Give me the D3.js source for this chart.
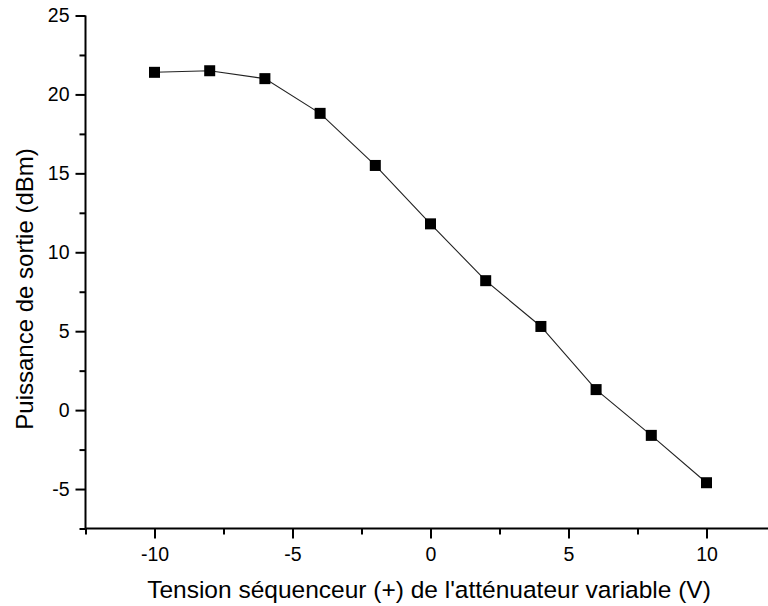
<!DOCTYPE html>
<html>
<head>
<meta charset="utf-8">
<script src="https://cdn.jsdelivr.net/npm/d3@7"></script>
<style>
  html, body { margin: 0; padding: 0; background: #fff; }
  svg { display: block; }
  text { font-family: "Liberation Sans", Arial, sans-serif; fill: #000; }
</style>
</head>
<body>
<svg id="chart" width="768" height="606"></svg>
<script>
const voltages = [-10, -8, -6, -4, -2, 0, 2, 4, 6, 8, 10];
const powerDbm = [21.4, 21.5, 21.0, 18.8, 15.5, 11.8, 8.2, 5.3, 1.3, -1.6, -4.6];
const xTicks = [-10, -5, 0, 5, 10];
const yTicks = [-5, 0, 5, 10, 15, 20, 25];
const xMinorTicks = [-12.5, -7.5, -2.5, 2.5, 7.5, 12.5];
const yMinorTicks = [-7.5, -2.5, 2.5, 7.5, 12.5, 17.5, 22.5];
const xTitle = "Tension séquenceur (+) de l'atténuateur variable (V)";
const yTitle = "Puissance de sortie (dBm)";

const svg = d3.select("#chart");
const mLeft = 85.5, mBottom = 528.5, mTop = 15.5;
const x = d3.scaleLinear().domain([-12.5, 12.5]).range([mLeft, mLeft + 690]);
const y = d3.scaleLinear().domain([-7.5, 25]).range([mBottom, mTop]);
const fmt = d => String(d);

// X axis
const gx = svg.append("g").attr("transform", `translate(0,${mBottom})`);
gx.call(d3.axisBottom(x).tickValues(xTicks).tickSize(10).tickPadding(9).tickFormat(fmt));
gx.append("g").call(d3.axisBottom(x).tickValues(xMinorTicks).tickSize(6).tickFormat(""))
  .select(".domain").remove();

// Y axis
const gy = svg.append("g").attr("transform", `translate(${mLeft},0)`);
gy.call(d3.axisLeft(y).tickValues(yTicks).tickSize(10).tickPadding(6).tickFormat(fmt));
gy.append("g").call(d3.axisLeft(y).tickValues(yMinorTicks).tickSize(6).tickFormat(""))
  .select(".domain").remove();

svg.selectAll(".domain").attr("stroke", "#000").attr("stroke-width", 2);
svg.selectAll(".tick line").attr("stroke", "#000").attr("stroke-width", 2);
svg.selectAll(".tick text").style("font-size", "19.5px").style("font-family", "'Liberation Sans', Arial, sans-serif").attr("fill", "#000");
gx.select(".domain").attr("d", `M${mLeft},0H${x(12.5)}`);
gy.select(".domain").attr("d", `M0,${mTop}V${mBottom}`);

// Line
const pts = voltages.map((v, i) => [v, powerDbm[i]]);
svg.append("path")
  .datum(pts)
  .attr("fill", "none")
  .attr("stroke", "#222")
  .attr("stroke-width", 1.1)
  .attr("d", d3.line().x(d => x(d[0])).y(d => y(d[1])));

// Markers
const ms = 11;
svg.append("g").selectAll("rect").data(pts).join("rect")
  .attr("x", d => x(d[0]) - ms / 2)
  .attr("y", d => y(d[1]) - ms / 2)
  .attr("width", ms).attr("height", ms)
  .attr("fill", "#000");

// Titles
svg.append("text")
  .attr("x", 429)
  .attr("y", 598)
  .attr("text-anchor", "middle")
  .style("font-size", "24.5px")
  .text(xTitle);

svg.append("text")
  .attr("transform", `translate(33,289) rotate(-90)`)
  .attr("text-anchor", "middle")
  .style("font-size", "24px")
  .text(yTitle);
</script>
</body>
</html>
